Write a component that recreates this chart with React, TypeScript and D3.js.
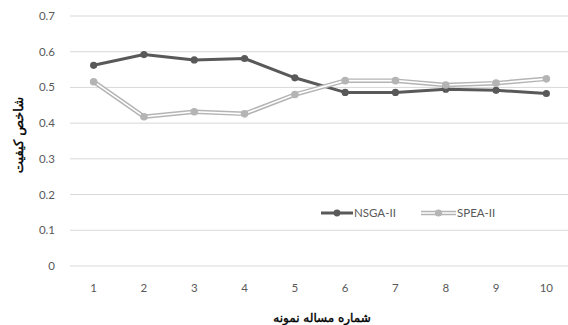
import React from "react";
import * as d3 from "d3";

const categories = ["1", "2", "3", "4", "5", "6", "7", "8", "9", "10"];
const nsga = [0.562, 0.592, 0.577, 0.581, 0.527, 0.486, 0.486, 0.495, 0.492, 0.483];
const spea = [0.516, 0.418, 0.432, 0.426, 0.48, 0.519, 0.519, 0.507, 0.512, 0.524];
const yTicks = [0, 0.1, 0.2, 0.3, 0.4, 0.5, 0.6, 0.7];
const seriesNames = ["NSGA-II", "SPEA-II"];
const xTitle = "شماره مساله نمونه";
const yTitle = "شاخص کیفیت";

const W = 568;
const H = 325;

export default function App() {
  const x = d3.scaleBand<string>().domain(categories).range([68.5, 571.5]);
  const y = d3.scaleLinear().domain([0, 0.7]).range([266, 16]);
  const cx = (c: string) => (x(c) as number) + x.bandwidth() / 2;
  const line = d3
    .line<number>()
    .x((_, i) => cx(categories[i]))
    .y((d) => y(d));
  const font = "Lato, 'Open Sans', 'Liberation Sans', sans-serif";
  const faFont = "'DejaVu Sans', sans-serif";
  return (
    <div style={{ position: "absolute", left: 0, top: 0 }}>
      <svg width={W} height={H} style={{ display: "block", background: "#fff" }}>
        {yTicks.map((t) => (
          <g key={t}>
            <line x1={70} x2={568} y1={y(t)} y2={y(t)} stroke="#d9d9d9" strokeWidth={1} />
            <text x={55} y={y(t)} dy="0.35em" textAnchor="end" fontFamily={font} fontSize={11.5} fill="#595959">
              {d3.format("")(t)}
            </text>
          </g>
        ))}
        {categories.map((c) => (
          <text key={c} x={cx(c)} y={292} textAnchor="middle" fontFamily={font} fontSize={11.5} fill="#595959">
            {c}
          </text>
        ))}
        {/* NSGA-II */}
        <path d={line(nsga) || ""} fill="none" stroke="#595959" strokeWidth={3} strokeLinejoin="round" />
        {nsga.map((v, i) => (
          <circle key={"n" + i} cx={cx(categories[i])} cy={y(v)} r={3.6} fill="#595959" />
        ))}
        {/* SPEA-II */}
        <path d={line(spea) || ""} fill="none" stroke="#b4b4b4" strokeWidth={4.5} strokeLinejoin="round" />
        <path d={line(spea) || ""} fill="none" stroke="#ffffff" strokeWidth={1.6} strokeLinejoin="round" />
        {spea.map((v, i) => (
          <circle key={"s" + i} cx={cx(categories[i])} cy={y(v)} r={3.8} fill="#b4b4b4" />
        ))}
        {/* legend */}
        <g>
          <line x1={321} x2={353} y1={213} y2={213} stroke="#595959" strokeWidth={3} />
          <circle cx={337} cy={213} r={3.4} fill="#595959" />
          <text x={354} y={213} dy="0.35em" fontFamily={font} fontSize={11.5} fill="#595959">
            {seriesNames[0]}
          </text>
          <line x1={421} x2={456} y1={213} y2={213} stroke="#b4b4b4" strokeWidth={4.5} />
          <line x1={421} x2={456} y1={213} y2={213} stroke="#ffffff" strokeWidth={1.6} />
          <circle cx={438.5} cy={213} r={3.6} fill="#b4b4b4" />
          <text x={457} y={213} dy="0.35em" fontFamily={font} fontSize={11.5} fill="#595959">
            {seriesNames[1]}
          </text>
        </g>
        <text x={322} y={318} dy="0.35em" textAnchor="middle" fontFamily={faFont} fontSize={12} fill="#000" stroke="#000" strokeWidth={0.4} direction="rtl">
          {xTitle}
        </text>
        <text
          transform={`translate(18,135) rotate(-90)`}
          textAnchor="middle"
          dy="0.35em"
          fontFamily={faFont}
          fontSize={13}
          fill="#000"
          stroke="#000"
          strokeWidth={0.4}
          direction="rtl"
        >
          {yTitle}
        </text>
      </svg>
    </div>
  );
}
